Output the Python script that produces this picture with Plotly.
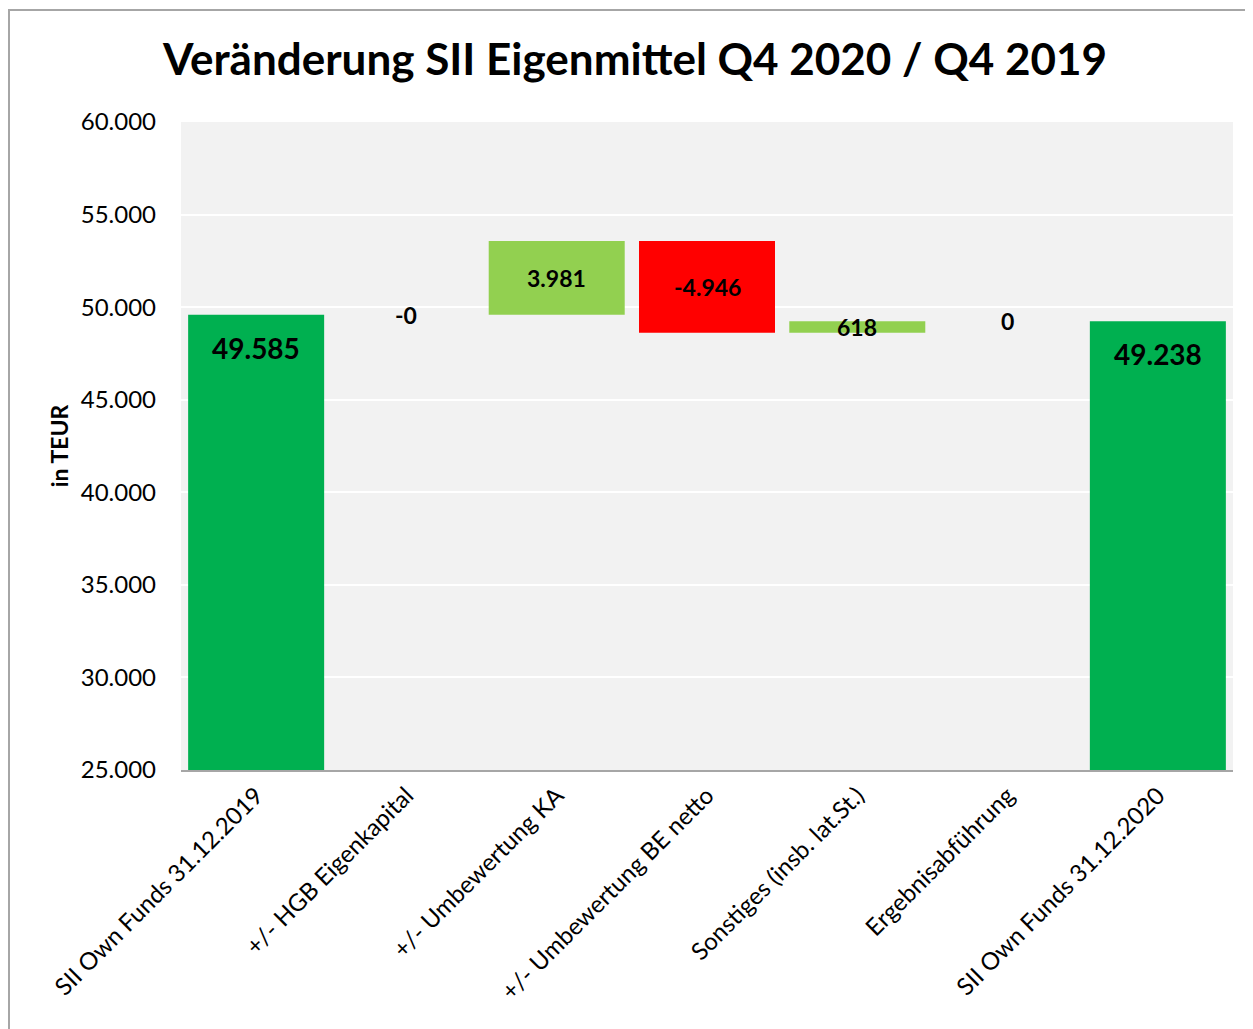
import plotly.graph_objects as go

categories = ["SII Own Funds 31.12.2019", "+/- HGB Eigenkapital", "+/- Umbewertung KA",
              "+/- Umbewertung BE netto", "Sonstiges (insb. lat.St.)", "Ergebnisabführung",
              "SII Own Funds 31.12.2020"]
values = [49585, 0, 3981, -4946, 618, 0, 49238]
measures = ["absolute", "relative", "relative", "relative", "relative", "relative", "total"]
labels = ["49.585", "-0", "3.981", "-4.946", "618", "0", "49.238"]

FONT = "Lato"

fig = go.Figure(go.Waterfall(
    x=categories, y=values, measure=measures,
    increasing=dict(marker=dict(color="#92D050", line=dict(width=0))),
    decreasing=dict(marker=dict(color="#FF0000", line=dict(width=0))),
    totals=dict(marker=dict(color="#00B050", line=dict(width=0))),
    connector=dict(visible=False),
    textposition="none", hoverinfo="skip",
))

# labels via annotations computed from data
annotations = []
level = 0
for i, (m, v, lab) in enumerate(zip(measures, values, labels)):
    if m in ("absolute", "total"):
        if m == "absolute":
            level = v
        annotations.append(dict(x=categories[i], y=level, text=f"<b>{lab}</b>", showarrow=False,
                                yshift=-33, font=dict(size=28, color="black", family=FONT)))
    else:
        mid = level + v / 2
        level = level + v
        annotations.append(dict(x=categories[i], y=mid, text=f"<b>{lab}</b>", showarrow=False,
                                font=dict(size=23, color="black", family=FONT)))

# page offset of the figure is 8px (body margin)
W, H = 1245, 1021
L, R, T, B = 173, 20, 114, 259
pw, ph = W - L - R, H - T - B

fig.update_layout(
    width=W, height=H,
    margin=dict(l=L, r=R, t=T, b=B, pad=0),
    paper_bgcolor="white", plot_bgcolor="#F2F2F2",
    separators=",.",
    showlegend=False,
    waterfallgap=0.095,
    title=dict(text="<b>Veränderung SII Eigenmittel Q4 2020 / Q4 2019</b>",
               x=(627 - L) / pw, xref="paper", xanchor="center",
               y=1 - 52 / H, yanchor="middle",
               font=dict(size=44, color="black", family=FONT)),
    font=dict(family=FONT, color="black"),
    annotations=annotations,
    shapes=[dict(type="rect", xref="paper", yref="paper",
                 x0=(1 - L) / pw, x1=(1260 - L) / pw,
                 y0=-(1040 - (T + ph)) / ph, y1=1 + (T - 2) / ph,
                 line=dict(color="#A6A6A6", width=2), fillcolor="rgba(0,0,0,0)", layer="below")],
)

fig.update_yaxes(range=[25000, 60000], dtick=5000, tickformat=",d",
                 showgrid=True, gridcolor="white", gridwidth=2, zeroline=False,
                 showline=False, ticks="", ticklabelstandoff=24,
                 tickfont=dict(size=24, color="black", family=FONT),
                 title=dict(text="<b>in TEUR</b>", standoff=5,
                            font=dict(size=23, color="black", family=FONT)))
fig.update_xaxes(tickangle=-45, showline=True, linecolor="#A6A6A6", linewidth=2,
                 ticks="", showgrid=False,
                 tickfont=dict(size=24, color="black", family=FONT))

fig.write_html("out.html")
